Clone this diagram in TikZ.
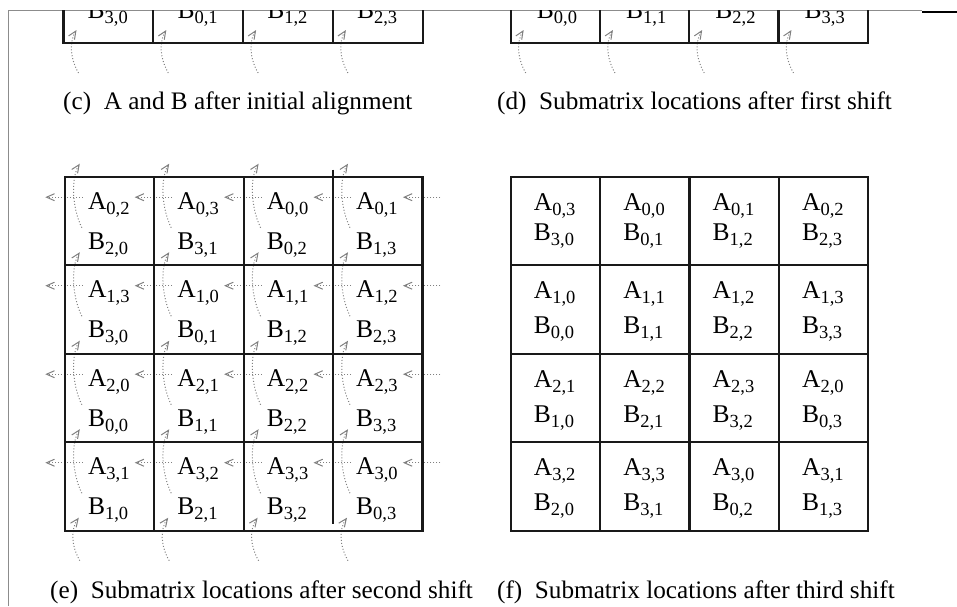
\documentclass[tikz,border=0pt]{standalone}
\usepackage{fontspec}
\setmainfont{Liberation Serif}
\usetikzlibrary{arrows.meta}
\colorlet{hopgray}{black!50}
\newcommand\sbs[1]{\raisebox{-5pt}{\fontsize{18.5}{18.5}\selectfont #1}}
\newcommand\ab[2]{\vtop{\hbox{A\sbs{#1}}\hbox{B\sbs{#2}}}}
\newcommand\bb[1]{B\sbs{#1}}
\tikzset{
  gridline/.style={line width=2.2pt,draw=black!90},
  frame/.style={line width=.9pt,draw=black!45},
  hop/.style={draw=hopgray,line width=1pt,dotted,-{Straight Barb[length=8pt,width=7pt]}},
  cellE/.style={anchor=base west,inner sep=0pt,font=\fontsize{25.5}{40}\selectfont},
  cellF/.style={anchor=base west,inner sep=0pt,font=\fontsize{25.5}{35}\selectfont},
  cellT/.style={anchor=base west,inner sep=0pt,font=\fontsize{25.5}{30}\selectfont},
  subcap/.style={anchor=base west,inner sep=0pt,font=\fontsize{25.2}{30}\selectfont},
}
\begin{document}
\begin{tikzpicture}[x=1pt,y=-1pt]%
        \useasboundingbox (0,0) rectangle (957,606);%%
        \draw[frame] (8,606) -- (8,10) -- (922,10);%%
        \draw[line width=1.3pt] (922,12) -- (957,12);%%
        \begin{scope}
        \clip (8,10) rectangle (957,606);%%
        % (c): only the last row is left on the page
        \begin{scope}[shift={(63.5,43)}]
        \foreach \c in {0,...,3}
          \draw[hop] (\c*89.8+15,30) .. controls (\c*89.8+6,14) and (\c*89.8+6,-2) .. (\c*89.8+13,-13);%%
        \draw[gridline] (0,-60) -- (0,0) -- (359.2,0) -- (359.2,-60);%%
        \foreach \c in {1,2,3}
          \draw[gridline] (\c*89.8,-60) -- (\c*89.8,0);%%
        \node[cellE] (c30) at (24,-25) {\bb{3,0}};%%
        \node[cellE] (c31) at (113.8,-25) {\bb{0,1}};%%
        \node[cellE] (c32) at (203.6,-25) {\bb{1,2}};%%
        \node[cellE] (c33) at (293.4,-25) {\bb{2,3}};%%
        \end{scope}
        % (d)
        \begin{scope}[shift={(510.7,43)}]
        \foreach \c in {0,...,3}
          \draw[hop] (\c*89.25+15,30) .. controls (\c*89.25+6,14) and (\c*89.25+6,-2) .. (\c*89.25+13,-13);%%
        \draw[gridline] (0,-60) -- (0,0) -- (357,0) -- (357,-60);%%
        \foreach \c in {1,2,3}
          \draw[gridline] (\c*89.25,-60) -- (\c*89.25,0);%%
        \node[cellE] (d30) at (26,-25) {\bb{0,0}};%%
        \node[cellE] (d31) at (115.25,-25) {\bb{1,1}};%%
        \node[cellE] (d32) at (204.5,-25) {\bb{2,2}};%%
        \node[cellE] (d33) at (293.75,-25) {\bb{3,3}};%%
        \end{scope}
        % (e): A goes left, B goes up
        \begin{scope}[shift={(64.8,176.7)}]
        \foreach \r in {0,...,3}{
          \foreach \k in {0,...,4}
            \draw[hop] (\k*89.4+18,\r*88.5+20.5) -- (\k*89.4-19.5,\r*88.5+20.5);%%
          \foreach \c in {0,...,3}
            \draw[hop] (\c*89.4+17,\r*88.5+51) .. controls (\c*89.4+6,\r*88.5+28) and (\c*89.4+7,\r*88.5-1) .. (\c*89.4+15,\r*88.5-13);%%
        }
        \foreach \c in {0,...,3}
          \draw[hop] (\c*89.4+15,384) .. controls (\c*89.4+6,368) and (\c*89.4+6,352) .. (\c*89.4+14,341);%%
        \draw[gridline] (0,0) rectangle (357.6,354);%%
        \foreach \r in {1,2,3}
          \draw[gridline] (0,\r*88.5) -- (357.6,\r*88.5);%%
        \foreach \c in {1,2}
          \draw[gridline] (\c*89.4,0) -- (\c*89.4,354);%%
        \draw[gridline] (268.2,-7) -- (268.2,347);%%
        \node[cellE] (e00) at (23,32.5) {\ab{0,2}{2,0}};%%
        \node[cellE] (e01) at (112.4,32.5) {\ab{0,3}{3,1}};%%
        \node[cellE] (e02) at (201.8,32.5) {\ab{0,0}{0,2}};%%
        \node[cellE] (e03) at (291.2,32.5) {\ab{0,1}{1,3}};%%
        \node[cellE] (e10) at (23,121) {\ab{1,3}{3,0}};%%
        \node[cellE] (e11) at (112.4,121) {\ab{1,0}{0,1}};%%
        \node[cellE] (e12) at (201.8,121) {\ab{1,1}{1,2}};%%
        \node[cellE] (e13) at (291.2,121) {\ab{1,2}{2,3}};%%
        \node[cellE] (e20) at (23,209.5) {\ab{2,0}{0,0}};%%
        \node[cellE] (e21) at (112.4,209.5) {\ab{2,1}{1,1}};%%
        \node[cellE] (e22) at (201.8,209.5) {\ab{2,2}{2,2}};%%
        \node[cellE] (e23) at (291.2,209.5) {\ab{2,3}{3,3}};%%
        \node[cellE] (e30) at (23,298) {\ab{3,1}{1,0}};%%
        \node[cellE] (e31) at (112.4,298) {\ab{3,2}{2,1}};%%
        \node[cellE] (e32) at (201.8,298) {\ab{3,3}{3,2}};%%
        \node[cellE] (e33) at (291.2,298) {\ab{3,0}{0,3}};%%
        \end{scope}
        % (f)
        \begin{scope}[shift={(510.7,176.7)}]
        \draw[gridline] (0,0) rectangle (357.6,354);%%
        \foreach \r in {1,2,3}
          \draw[gridline] (0,\r*88.5) -- (357.6,\r*88.5);%%
        \foreach \c in {1,2,3}
          \draw[gridline] (\c*89.4,0) -- (\c*89.4,354);%%
        \node[cellT] (f00) at (23,33.5) {\ab{0,3}{3,0}};%%
        \node[cellT] (f01) at (112.4,33.5) {\ab{0,0}{0,1}};%%
        \node[cellT] (f02) at (201.8,33.5) {\ab{0,1}{1,2}};%%
        \node[cellT] (f03) at (291.2,33.5) {\ab{0,2}{2,3}};%%
        \node[cellF] (f10) at (23,122) {\ab{1,0}{0,0}};%%
        \node[cellF] (f11) at (112.4,122) {\ab{1,1}{1,1}};%%
        \node[cellF] (f12) at (201.8,122) {\ab{1,2}{2,2}};%%
        \node[cellF] (f13) at (291.2,122) {\ab{1,3}{3,3}};%%
        \node[cellF] (f20) at (23,210.5) {\ab{2,1}{1,0}};%%
        \node[cellF] (f21) at (112.4,210.5) {\ab{2,2}{2,1}};%%
        \node[cellF] (f22) at (201.8,210.5) {\ab{2,3}{3,2}};%%
        \node[cellF] (f23) at (291.2,210.5) {\ab{2,0}{0,3}};%%
        \node[cellF] (f30) at (23,299) {\ab{3,2}{2,0}};%%
        \node[cellF] (f31) at (112.4,299) {\ab{3,3}{3,1}};%%
        \node[cellF] (f32) at (201.8,299) {\ab{3,0}{0,2}};%%
        \node[cellF] (f33) at (291.2,299) {\ab{3,1}{1,3}};%%
        \end{scope}
        \end{scope}
        \node[subcap] (capc) at (63,109) {(c)\enspace A and B after initial alignment};%%
        \node[subcap] (capd) at (497,109) {(d)\enspace Submatrix locations after first shift};%%
        \node[subcap] (cape) at (50,598) {(e)\enspace Submatrix locations after second shift};%%
        \node[subcap] (capf) at (497,598) {(f)\enspace Submatrix locations after third shift};%%
\end{tikzpicture}
\end{document}
